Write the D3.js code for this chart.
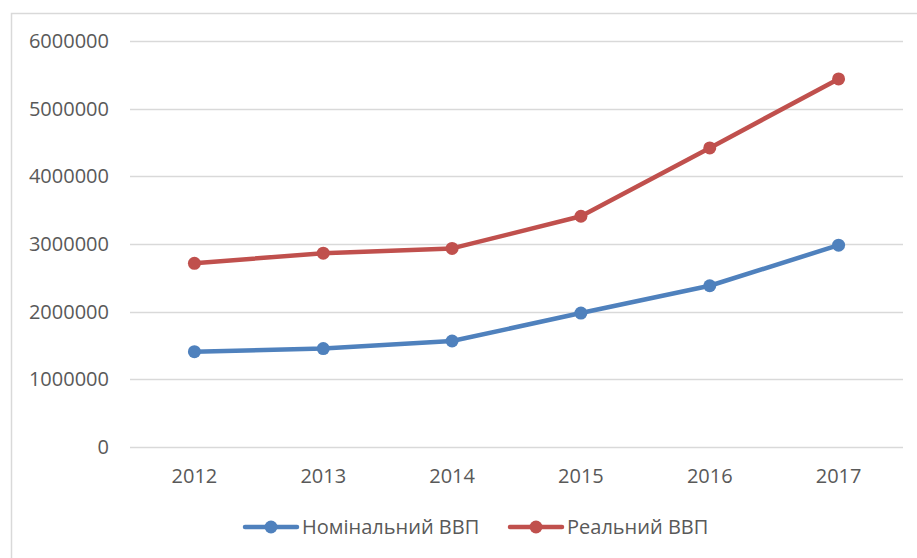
<!DOCTYPE html>
<html>
<head>
<meta charset="utf-8">
<script src="https://cdn.jsdelivr.net/npm/d3@7"></script>
<style>
  body { margin: 0; background: #fff; }
  svg { display: block; font-family: "Open Sans", "Noto Sans", sans-serif; }
</style>
</head>
<body>
<svg id="chart" width="917" height="558"></svg>
<script>
// data
let years = ["2012", "2013", "2014", "2015", "2016", "2017"];
let nominal = [1408889, 1454931, 1566728, 1979458, 2383182, 2982920];
let real = [2715000, 2865000, 2935000, 3410000, 4420000, 5440000];
let yTicks = [0, 1000000, 2000000, 3000000, 4000000, 5000000, 6000000];
let seriesNames = ["Номінальний ВВП", "Реальний ВВП"];
let seriesColors = ["#4f81bd", "#c0504d"];

let svg = d3.select("#chart");

// outer chart border (clipped by the window on the right and bottom)
svg.append("rect")
  .attr("x", 11.5).attr("y", 13.5)
  .attr("width", 960).attr("height", 600)
  .attr("fill", "none")
  .attr("stroke", "#d9d9d9")
  .attr("stroke-width", 1.5);

let margin = { top: 41, left: 130, right: 903, bottom: 447 };

let x = d3.scaleBand()
  .domain(years)
  .range([margin.left, margin.right]);

let y = d3.scaleLinear()
  .domain([0, 6000000])
  .range([margin.bottom, margin.top]);

// gridlines
svg.append("g")
  .selectAll("line")
  .data(yTicks)
  .join("line")
    .attr("x1", margin.left)
    .attr("x2", margin.right)
    .attr("y1", d => Math.round(y(d)) + 0.5)
    .attr("y2", d => Math.round(y(d)) + 0.5)
    .attr("stroke", "#d9d9d9")
    .attr("stroke-width", 1.3);

// y axis labels
let yAxis = d3.axisLeft(y).tickValues(yTicks).tickSize(0).tickPadding(21).tickFormat(d3.format("d"));
let yGroup = svg.append("g").attr("transform", "translate(" + margin.left + ",0)").call(yAxis);
yGroup.select(".domain").remove();
yGroup.selectAll("text")
  .attr("font-family", "Open Sans, sans-serif")
  .attr("font-size", 20)
  .attr("fill", "#595959");

// x axis labels
let xAxis = d3.axisBottom(x).tickSize(0).tickPadding(22);
let xGroup = svg.append("g").attr("transform", "translate(0," + margin.bottom + ")").call(xAxis);
xGroup.select(".domain").remove();
xGroup.selectAll("text")
  .attr("font-family", "Open Sans, sans-serif")
  .attr("font-size", 20)
  .attr("fill", "#595959");

let cx = d => x(d) + x.bandwidth() / 2;

let line = d3.line()
  .x((d, i) => cx(years[i]))
  .y(d => y(d));

[nominal, real].forEach((vals, k) => {
  let g = svg.append("g");
  g.append("path")
    .datum(vals)
    .attr("d", line)
    .attr("fill", "none")
    .attr("stroke", seriesColors[k])
    .attr("stroke-width", 4.5)
    .attr("stroke-linejoin", "round");
  g.selectAll("circle")
    .data(vals)
    .join("circle")
      .attr("cx", (d, i) => cx(years[i]))
      .attr("cy", d => y(d))
      .attr("r", 6.5)
      .attr("fill", seriesColors[k]);
});

// legend
let legendX = [245, 510];
let legendY = 527;
seriesNames.forEach((name, k) => {
  let g = svg.append("g").attr("transform", "translate(" + legendX[k] + "," + legendY + ")");
  g.append("line")
    .attr("x1", 0).attr("x2", 52)
    .attr("y1", 0).attr("y2", 0)
    .attr("stroke", seriesColors[k])
    .attr("stroke-width", 4.5)
    .attr("stroke-linecap", "round");
  g.append("circle")
    .attr("cx", 26).attr("cy", 0).attr("r", 6.5)
    .attr("fill", seriesColors[k]);
  g.append("text")
    .attr("x", 57).attr("y", 0)
    .attr("dy", "0.36em")
    .attr("font-size", 20)
    .attr("fill", "#595959")
    .text(name);
});
</script>
</body>
</html>
